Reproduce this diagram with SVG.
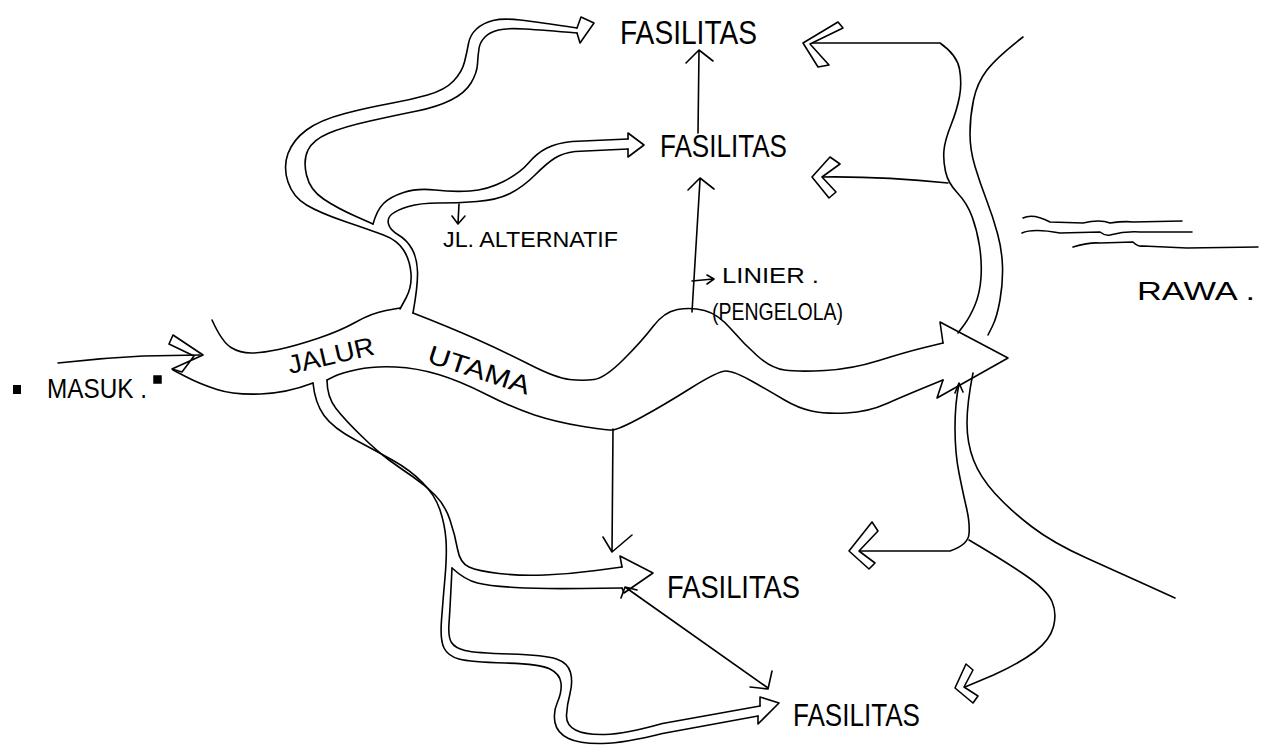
<svg xmlns="http://www.w3.org/2000/svg" width="1270" height="752" viewBox="0 0 1270 752">
<style>
.ln{fill:none;stroke:#000;stroke-width:1.6;stroke-linecap:round;stroke-linejoin:round}
.hd{fill:#fff;stroke:#000;stroke-width:1.6;stroke-linejoin:round}
.t{font-family:"Liberation Sans",Arial,sans-serif;fill:#000}
</style>
<rect width="1270" height="752" fill="#fff"/>

<g id="masuk">
  <rect x="13" y="385" width="8" height="9" fill="#000"/>
  <rect x="154" y="376" width="7" height="7" fill="#000" stroke="#000" stroke-width="1.5"/>
  <text class="t" x="47" y="398" font-size="28" textLength="100" lengthAdjust="spacingAndGlyphs">MASUK .</text>
</g>

<g id="jalur-utama">
  <path class="ln" d="M212,320 Q222,342 231,347.5 Q240,353 251,353 Q262,353 278.5,349.5 Q295,346 317.5,338.5 Q340,331 356,322 Q372,313 386,310.5 L400,308"/>
  <path class="ln" d="M413,313 Q449,327 476,339 Q503,351 529.5,364.5 Q556,378 569.5,379.5 Q583,381 594,379.5 Q605,378 623.5,359.5 Q642,341 653,326.5 Q664,312 677.5,309.5 Q691,307 704.5,310.5 Q718,314 731,329 Q744,344 757.5,356 Q771,368 784.5,370 Q798,372 825,370.5 Q852,369 879,360.5 Q906,352 924.5,347.5 L943,343"/>
  <path class="ln" d="M943,343 L940,322 L1008,358 L937,398 L943,380"/>
  <path class="ln" d="M943,380 Q906,395 887,403.5 Q868,412 846.5,413 Q825,414 811.5,411 Q798,408 784.5,400 Q771,392 752.5,381.5 Q734,371 726,371 Q718,371 691,388 Q664,405 641,417.5 Q618,430 611.5,430 Q605,430 580.5,426 Q556,422 534.5,415 Q513,408 486.5,394.5 Q460,381 438.5,374.5 Q417,368 395.5,367 Q374,366 357.5,369.5 Q341,373 334,376.5 L327,380"/>
  <path class="ln" d="M313,383 Q287,393 260.5,394 Q234,395 217,389.5 Q200,384 186.5,377 L173,370"/>
  <text class="t" font-size="26" transform="translate(290,374) rotate(-13)" textLength="88" lengthAdjust="spacingAndGlyphs">JALUR</text>
  <text class="t" font-size="26" transform="translate(426,362) rotate(18)" textLength="106" lengthAdjust="spacingAndGlyphs">UTAMA</text>
</g>

<g id="jl-alternatif">
  <path class="ln" d="M577,28 Q537,22 520,20 Q503,18 493,20.5 Q483,23 476.5,29 Q470,35 468.5,43.5 Q467,52 464.5,62 Q462,72 453.5,81 Q445,90 427.5,95 Q410,100 390,103.5 Q370,107 345,113.5 Q320,120 306.5,130 Q293,140 288,153.5 Q283,167 288,182 Q293,197 306.5,205 Q320,213 345,221.5 Q370,230 383.5,235 Q397,240 403.5,250 Q410,260 411,273.5 Q412,287 406,298 L400,309"/>
  <path class="ln" d="M577,33 Q543,30 525,29 Q507,28 498.5,30 Q490,32 485,37 Q480,42 479,48.5 Q478,55 477.5,64 Q477,73 471,83 Q465,93 451,100 Q437,107 417,111 Q397,115 370,121 Q343,127 328,133.5 Q313,140 308,150 Q303,160 306.5,175 Q310,190 323.5,199 Q337,208 355,216 L373,224"/>
  <path class="ln" d="M373,224 Q377,210 383.5,203.5 Q390,197 403.5,192.5 Q417,188 435,190 Q453,192 470,191 Q487,190 503.5,181.5 Q520,173 528.5,163 Q537,153 547,148 Q557,143 572,141.5 L628,139"/>
  <path class="ln" d="M413,313 Q418,285 417.5,271.5 Q417,258 412,249 Q407,240 398.5,235 Q390,230 388.5,224 Q387,218 392,214 Q397,210 408.5,206.5 Q420,203 438.5,203 Q457,203 477,201.5 Q497,200 510,193.5 Q523,187 535,175 Q547,163 555,158 Q563,153 575,151.5 L628,149"/>
  <path class="ln" d="M577,28 L581,17 L594,23 L580,43 L577,33"/>
  <path class="ln" d="M628,139 L628,133 L644,145 L628,157 L628,149"/>
  <path class="ln" d="M327,380 Q327,397 336,408.5 Q345,420 361.5,436 Q378,452 389,460 Q400,468 412.5,476.5 Q425,485 435,495 Q445,505 450,520 Q455,535 457.5,549 Q460,563 469,567 Q478,571 499,573.5 Q520,576 545,575 Q570,574 596,570.5 L622,567"/>
  <path class="ln" d="M452,568 Q465,580 477.5,583 Q490,586 515,587.5 Q540,589 581,588.5 L622,588"/>
  <path class="ln" d="M622,567 L620,556 L653,573 L624,593 L622,588"/>
  <path class="ln" d="M313,383 Q315,403 324,415.5 Q333,428 355.5,440 Q378,452 394,461 Q410,470 422.5,482.5 Q435,495 440,510 Q445,525 446,540 Q447,555 445,577.5 Q443,600 441.5,620 Q440,640 444,648 Q448,656 459,659 Q470,662 505,663 Q540,664 550,669 Q560,674 561,683 Q562,692 557.5,702 Q553,712 555,722.5 Q557,733 568.5,738.5 Q580,744 602.5,743.5 Q625,743 662.5,733.5 L758,716"/>
  <path class="ln" d="M452,568 Q450,610 449,623.5 Q448,637 451.5,642.5 Q455,648 465,650.5 Q475,653 510,654 Q545,655 556.5,659 Q568,663 570.5,672.5 Q573,682 570,693.5 Q567,705 566.5,715 Q566,725 575.5,730 Q585,735 605,734.5 Q625,734 662.5,723.5 L760,706"/>
  <path class="ln" d="M760,706 L760,697 L779,703 L758,724 L758,716"/>
  <path class="ln" d="M459,204 L458,223 M452,216 L458,224 L465,216"/>
  <text class="t" x="443" y="247" font-size="22" textLength="175" lengthAdjust="spacingAndGlyphs">JL. ALTERNATIF</text>
</g>

<g id="fasilitas-1"><text class="t" x="620" y="44" font-size="34" textLength="137" lengthAdjust="spacingAndGlyphs">FASILITAS</text></g>
<g id="fasilitas-2"><text class="t" x="660" y="157" font-size="32" textLength="127" lengthAdjust="spacingAndGlyphs">FASILITAS</text></g>
<g id="fasilitas-3"><text class="t" x="667" y="598" font-size="32" textLength="133" lengthAdjust="spacingAndGlyphs">FASILITAS</text></g>
<g id="fasilitas-4"><text class="t" x="793" y="726" font-size="32" textLength="127" lengthAdjust="spacingAndGlyphs">FASILITAS</text></g>

<g id="linier">
  <text class="t" x="722" y="283" font-size="22" textLength="97" lengthAdjust="spacingAndGlyphs">LINIER .</text>
  <text class="t" x="712" y="320" font-size="24" textLength="131" lengthAdjust="spacingAndGlyphs">(PENGELOLA)</text>
</g>

<g id="rawa">
  <path class="ln" d="M1023,218 Q1033,213 1050,222 L1083,223 Q1100,219 1110,223 Q1125,221 1133,222 L1182,221"/>
  <path class="ln" d="M1022,233 Q1033,228 1060,233 L1100,232 Q1105,236 1110,235 Q1125,231 1140,232 L1192,232"/>
  <path class="ln" d="M1073,247 Q1090,242 1100,243 L1133,242 Q1138,247 1143,246 L1187,248 L1258,247"/>
  <text class="t" x="1137" y="300" font-size="26" textLength="118" lengthAdjust="spacingAndGlyphs">RAWA .</text>
</g>

<g id="tepi-kanan">
  <path class="ln" d="M1023,37 Q997,57 987,70 Q977,83 973.5,100 Q970,117 970,133.5 Q970,150 975,166.5 Q980,183 986.5,200 Q993,217 997.5,233.5 Q1002,250 1002.5,266.5 Q1003,283 1000,300 Q997,317 992.5,326 L988,335"/>
  <path class="ln" d="M973,373 Q967,403 967,423 Q967,443 973.5,460 Q980,477 995,493.5 Q1010,510 1031.5,526.5 Q1053,543 1086.5,558 Q1120,573 1147.5,585.5 L1175,598"/>
</g>

<g id="connectors">
  <path class="ln" d="M58,363 Q100,358 143,356 L200,355"/>
  <path class="ln" d="M173,335 L203,355 L172,369 M169,344 L194,356 L182,372 M173,335 L169,344 M172,369 L182,372"/>
  <path class="ln" d="M698,133 L699,51 M686,63 L699,50 L713,61"/>
  <path class="ln" d="M692,312 L700,180 M688,190 L700,178 L714,189"/>
  <path class="ln" d="M692,281 L713,279 M707,275 L714,279 L707,284"/>
  <path class="ln" d="M613,429 L612,552 M603,537 L612,552 L632,535"/>
  <path class="ln" d="M625,587 L768,688 M621,598 L625,587 L637,590 M750,687 L768,689 L772,671"/>
  <path class="ln" d="M806,43 L940,43 Q957,55 959.5,69 Q962,83 959.5,96.5 Q957,110 951,125 Q945,140 944,150 Q943,160 945.5,171.5 Q948,183 957.5,193 Q967,203 972,216.5 Q977,230 979.5,246 Q982,262 981,277.5 Q980,293 975,305 Q970,317 964,325 L958,333"/>
  <path class="hd" d="M803,43 L838,22 L843,28 L810,44 L829,65 L818,67 Z"/>
  <path class="ln" d="M948,183 Q880,176 820,177"/>
  <path class="hd" d="M812,177 L830,157 L840,164 L822,177 L836,192 L829,198 Z"/>
  <path class="ln" d="M959,384 Q955,403 955,428 Q955,453 959,473 Q963,493 966.5,508 Q970,523 969,534 Q968,545 950,551 L860,551"/>
  <path class="ln" d="M955,393 L959,383 L963,392"/>
  <path class="hd" d="M849,551 L872,522 L878,531 L859,551 L875,563 L869,569 Z"/>
  <path class="ln" d="M969,540 Q1003,560 1025,575 Q1047,590 1052,601.5 Q1057,613 1053.5,626.5 Q1050,640 1035,651.5 Q1020,663 993.5,675 L965,687"/>
  <path class="hd" d="M955,688 L966,664 L973,670 L964,687 L978,696 L973,703 Z"/>
</g>
</svg>
